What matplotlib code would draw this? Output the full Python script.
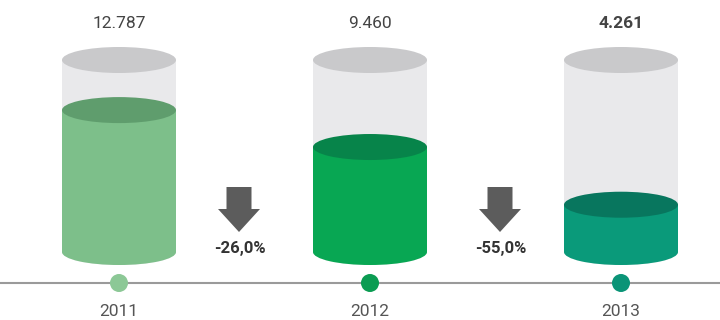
import matplotlib
matplotlib.use("Agg")
import matplotlib.pyplot as plt
from matplotlib.patches import Rectangle, Ellipse, Circle, FancyArrow

years = ["2011", "2012", "2013"]
values = [12787, 9460, 4261]
value_labels = ["12.787", "9.460", "4.261"]
changes = ["-26,0%", "-55,0%"]
capacity = 17300

body_colors = ["#7dbf8a", "#08a753", "#0a9a7a"]
top_colors = ["#5f9d6d", "#07844a", "#08765e"]
dot_colors = ["#8cc896", "#0b9c52", "#0a9477"]

plt.rcParams['font.family'] = ['Roboto', 'DejaVu Sans']
fig = plt.figure(figsize=(7.2, 3.2), dpi=100)
ax = fig.add_axes([0, 0, 1, 1])
ax.set_xlim(0, 720)
ax.set_ylim(320, 0)
ax.axis('off')

centers = [119, 370, 621]
arrow_x = [239, 500]
half_w = 57
ry = 13
y_top = 60
y_bot = 252
full_h = y_bot - y_top

# timeline
ax.plot([0, 720], [283, 283], color="#9a9a9a", lw=1.5, zorder=1)

for i, cx in enumerate(centers):
    # empty glass
    ax.add_patch(Rectangle((cx - half_w, y_top), 2 * half_w, full_h, facecolor="#e9e9eb",
                           edgecolor="none", zorder=2))
    ax.add_patch(Ellipse((cx, y_bot), 2 * half_w, 2 * ry, facecolor="#e9e9eb", edgecolor="none", zorder=2))
    ax.add_patch(Ellipse((cx, y_top), 2 * half_w, 2 * ry, facecolor="#c9c9cb", edgecolor="none", zorder=3))
    # fill
    fill_h = full_h * values[i] / capacity
    fy = y_bot - fill_h
    ax.add_patch(Rectangle((cx - half_w, fy), 2 * half_w, fill_h, facecolor=body_colors[i],
                           edgecolor="none", zorder=4))
    ax.add_patch(Ellipse((cx, y_bot), 2 * half_w, 2 * ry, facecolor=body_colors[i], edgecolor="none", zorder=4))
    ax.add_patch(Ellipse((cx, fy), 2 * half_w, 2 * ry, facecolor=top_colors[i], edgecolor="none", zorder=5))
    # dot
    ax.add_patch(Circle((cx, 283), 9, facecolor=dot_colors[i], edgecolor="none", zorder=6))
    # labels
    ax.text(cx, 24, value_labels[i], ha="center", va="center", fontsize=12.5,
            color="#444444", fontweight="bold" if i == 2 else "normal")
    ax.text(cx, 312, years[i], ha="center", va="center", fontsize=12.5, color="#555555")

# arrows between
for j, ch in enumerate(changes):
    xa = arrow_x[j]
    ax.add_patch(FancyArrow(xa, 187, 0, 45, width=25, head_width=42, head_length=23,
                            length_includes_head=True, facecolor="#5c5c5c", edgecolor="none", zorder=3))
    ax.text(xa + 1, 249, ch, ha="center", va="center", fontsize=12, fontweight="bold", color="#333333")

fig.savefig("out.png", dpi=100, facecolor="white")
